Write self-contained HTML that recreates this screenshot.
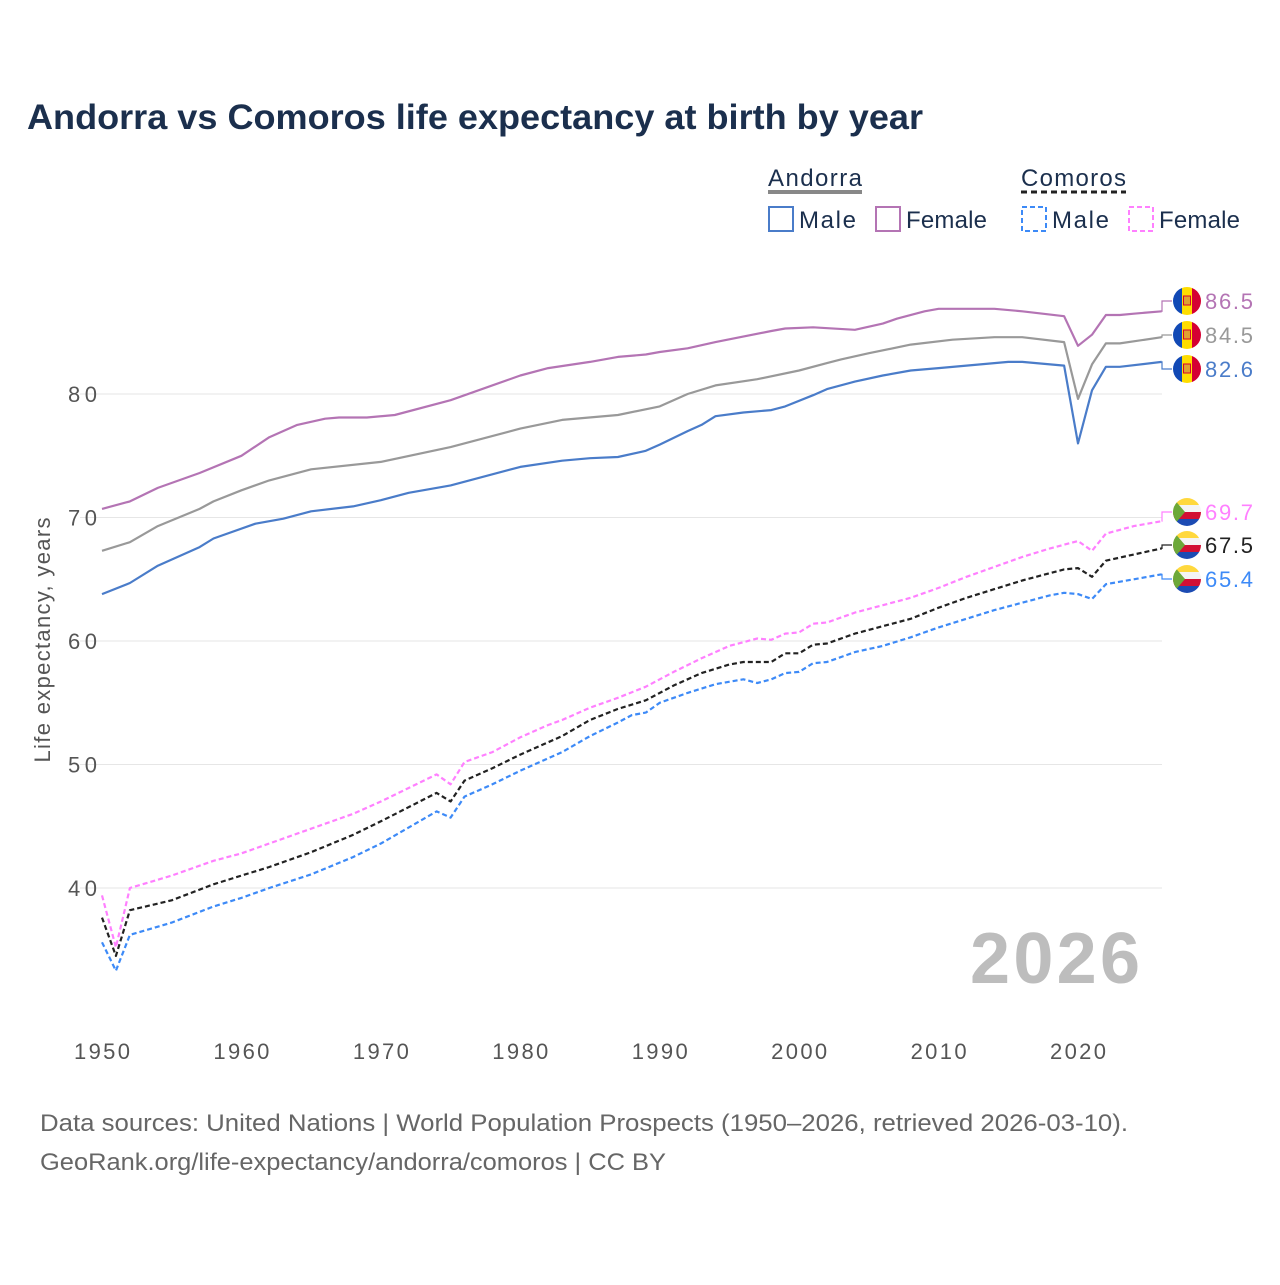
<!DOCTYPE html>
<html><head><meta charset="utf-8"><style>
body{margin:0;background:#fff;font-family:"Liberation Sans",sans-serif}
</style></head><body>
<svg width="1280" height="1280" xmlns="http://www.w3.org/2000/svg" font-family="Liberation Sans, sans-serif">
<text x="27" y="129" font-size="35" font-weight="bold" fill="#1b2f4d" textLength="896" lengthAdjust="spacingAndGlyphs">Andorra vs Comoros life expectancy at birth by year</text>
<g>
<text x="768" y="186" font-size="24" fill="#1b2f4d" textLength="94">Andorra</text>
<line x1="768" y1="192" x2="862" y2="192" stroke="#888" stroke-width="4"/>
<text x="1021" y="186" font-size="24" fill="#1b2f4d" textLength="105">Comoros</text>
<line x1="1021" y1="192" x2="1126" y2="192" stroke="#222" stroke-width="3" stroke-dasharray="6,4"/>
<rect x="769" y="207" width="24" height="24" fill="none" stroke="#4a7cc9" stroke-width="2"/>
<text x="799" y="228" font-size="24" fill="#1b2f4d" textLength="57">Male</text>
<rect x="876" y="207" width="24" height="24" fill="none" stroke="#b474b4" stroke-width="2"/>
<text x="906" y="228" font-size="24" fill="#1b2f4d" textLength="81">Female</text>
<rect x="1022" y="207" width="24" height="24" fill="none" stroke="#3d8af7" stroke-width="2" stroke-dasharray="5,3"/>
<text x="1052" y="228" font-size="24" fill="#1b2f4d" textLength="57">Male</text>
<rect x="1129" y="207" width="24" height="24" fill="none" stroke="#ff80ff" stroke-width="2" stroke-dasharray="5,3"/>
<text x="1159" y="228" font-size="24" fill="#1b2f4d" textLength="81">Female</text>
</g>
<g id="grid"></g>
<text x="1140" y="983" font-size="72" font-weight="bold" fill="#bdbdbd" text-anchor="end" textLength="170">2026</text>
<text transform="translate(50,640) rotate(-90)" font-size="22" fill="#555" text-anchor="middle" textLength="245">Life expectancy, years</text>
<g id="series"></g>
<g id="labels"></g>
<text x="40" y="1131" font-size="24" fill="#666" textLength="1088" lengthAdjust="spacingAndGlyphs">Data sources: United Nations | World Population Prospects (1950–2026, retrieved 2026-03-10).</text>
<text x="40" y="1170" font-size="24" fill="#666" textLength="626" lengthAdjust="spacingAndGlyphs">GeoRank.org/life-expectancy/andorra/comoros | CC BY</text>
</svg>
<script>
const yTicks=[40,50,60,70,80];
const xTicks=[1950,1960,1970,1980,1990,2000,2010,2020];
const andFemale=[[1950,70.7],[1952,71.3],[1954,72.4],[1957,73.6],[1960,75.0],[1962,76.5],[1964,77.5],[1966,78.0],[1967,78.1],[1969,78.1],[1971,78.3],[1975,79.5],[1980,81.5],[1982,82.1],[1985,82.6],[1987,83.0],[1989,83.2],[1990,83.4],[1992,83.7],[1994,84.2],[1998,85.1],[1999,85.3],[2001,85.4],[2004,85.2],[2006,85.7],[2007,86.1],[2009,86.7],[2010,86.9],[2014,86.9],[2016,86.7],[2019,86.3],[2020,83.9],[2021,84.8],[2022,86.4],[2023,86.4],[2024,86.5],[2026,86.7]];
const andTotal=[[1950,67.3],[1952,68.0],[1954,69.3],[1957,70.7],[1958,71.3],[1960,72.2],[1962,73.0],[1965,73.9],[1970,74.5],[1975,75.7],[1980,77.2],[1983,77.9],[1987,78.3],[1990,79.0],[1992,80.0],[1994,80.7],[1997,81.2],[2000,81.9],[2002,82.5],[2003,82.8],[2005,83.3],[2008,84.0],[2011,84.4],[2014,84.6],[2016,84.6],[2019,84.2],[2020,79.6],[2021,82.4],[2022,84.1],[2023,84.1],[2026,84.6]];
const andMale=[[1950,63.8],[1952,64.7],[1954,66.1],[1957,67.6],[1958,68.3],[1961,69.5],[1963,69.9],[1965,70.5],[1968,70.9],[1970,71.4],[1972,72.0],[1975,72.6],[1980,74.1],[1983,74.6],[1985,74.8],[1987,74.9],[1989,75.4],[1990,75.9],[1992,77.0],[1993,77.5],[1994,78.2],[1996,78.5],[1998,78.7],[1999,79.0],[2001,79.9],[2002,80.4],[2004,81.0],[2006,81.5],[2008,81.9],[2010,82.1],[2013,82.4],[2015,82.6],[2016,82.6],[2019,82.3],[2020,76.0],[2021,80.3],[2022,82.2],[2023,82.2],[2026,82.6]];
const comFemale=[[1950,39.4],[1951,35.2],[1952,40.0],[1955,41.0],[1958,42.2],[1960,42.8],[1962,43.6],[1965,44.8],[1968,46.0],[1970,47.0],[1974,49.2],[1975,48.4],[1976,50.2],[1978,51.0],[1980,52.2],[1982,53.2],[1983,53.6],[1985,54.6],[1987,55.4],[1989,56.3],[1991,57.5],[1993,58.6],[1995,59.6],[1997,60.2],[1998,60.1],[1999,60.6],[2000,60.7],[2001,61.4],[2002,61.5],[2004,62.3],[2006,62.9],[2008,63.5],[2010,64.3],[2012,65.2],[2014,66.0],[2016,66.8],[2018,67.5],[2019,67.8],[2020,68.1],[2021,67.3],[2022,68.7],[2024,69.3],[2026,69.7]];
const comTotal=[[1950,37.6],[1951,34.5],[1952,38.2],[1955,39.0],[1958,40.3],[1960,41.0],[1962,41.7],[1965,42.9],[1968,44.3],[1970,45.4],[1974,47.7],[1975,47.0],[1976,48.7],[1978,49.7],[1980,50.8],[1983,52.3],[1985,53.6],[1987,54.5],[1989,55.2],[1991,56.4],[1993,57.4],[1995,58.1],[1996,58.3],[1998,58.3],[1999,59.0],[2000,59.0],[2001,59.7],[2002,59.8],[2004,60.6],[2006,61.2],[2008,61.8],[2010,62.7],[2012,63.5],[2014,64.2],[2016,64.9],[2018,65.5],[2019,65.8],[2020,65.9],[2021,65.2],[2022,66.5],[2024,67.0],[2026,67.5]];
const comMale=[[1950,35.6],[1951,33.3],[1952,36.2],[1955,37.2],[1958,38.5],[1960,39.2],[1962,40.0],[1965,41.1],[1968,42.5],[1970,43.6],[1974,46.2],[1975,45.7],[1976,47.4],[1978,48.4],[1980,49.5],[1983,51.0],[1985,52.3],[1987,53.4],[1988,54.0],[1989,54.2],[1990,55.0],[1992,55.8],[1994,56.5],[1996,56.9],[1997,56.6],[1998,56.9],[1999,57.4],[2000,57.5],[2001,58.2],[2002,58.3],[2004,59.1],[2006,59.6],[2008,60.3],[2010,61.1],[2012,61.8],[2014,62.5],[2016,63.1],[2018,63.7],[2019,63.9],[2020,63.8],[2021,63.4],[2022,64.6],[2024,65.0],[2026,65.4]];
const endLabels=["86.5","84.5","82.6","69.7","67.5","65.4"];

const NS="http://www.w3.org/2000/svg";
const X=y=>102+(y-1950)*13.943;
const Y=v=>394-(v-80)*12.35;
function mk(t,a,p){const e=document.createElementNS(NS,t);for(const k in a)e.setAttribute(k,a[k]);p.appendChild(e);return e;}
const grid=document.getElementById('grid');
yTicks.forEach(v=>{
  const l=mk('line',{x1:80,x2:1162,y1:Y(v),y2:Y(v),stroke:'#e6e6e6','stroke-width':1},grid);
  
  
  const t=mk('text',{x:97,y:Y(v)+8,'font-size':22,fill:'#555','text-anchor':'end',textLength:29},grid);
  t.textContent=v;
  
  
});
xTicks.forEach(v=>{
  const t=mk('text',{x:X(v),y:1059,'font-size':22,fill:'#555','text-anchor':'middle',textLength:56},grid);
  t.textContent=v;
  
  
});
const ser=document.getElementById('series');
const defs=[
 [andFemale,'#b474b4',null,'andorra-female-line'],
 [andTotal,'#999',null,'andorra-total-line'],
 [andMale,'#4a7cc9',null,'andorra-male-line'],
 [comFemale,'#ff80ff','5,3','comoros-female-line'],
 [comTotal,'#222','5,3','comoros-total-line'],
 [comMale,'#3d8af7','5,3','comoros-male-line']];
const labYs=[301,335,369,512,545,579];
const lab=document.getElementById('labels');
defs.forEach((d,i)=>{
  const pts=d[0].map(p=>X(p[0]).toFixed(1)+','+Y(p[1]).toFixed(1)).join(' ');
  const a={points:pts,fill:'none',stroke:d[1],'stroke-width':2.2,'stroke-linejoin':'round'};
  if(d[2])a['stroke-dasharray']=d[2];
  const pl=mk('polyline',a,ser);
  
  
  const last=d[0][d[0].length-1];
  const ey=Y(last[1]),ly=labYs[i];
  mk('polyline',{points:`${X(last[0])},${ey} 1162,${ey} 1162,${ly} 1172,${ly}`,fill:'none',stroke:d[1],'stroke-width':1.2},lab);
  const cx=1187,cy=ly,r=14;
  const g=mk('g',{},lab);
  
  
  const cp='cp'+i;
  const c=mk('clipPath',{id:cp},g);mk('circle',{cx,cy,r},c);
  const gg=mk('g',{'clip-path':`url(#${cp})`},g);
  if(i<3){
    mk('rect',{x:cx-r,y:cy-r,width:9,height:28,fill:'#1149b5'},gg);
    mk('rect',{x:cx-5,y:cy-r,width:10,height:28,fill:'#fedd00'},gg);
    mk('rect',{x:cx+5,y:cy-r,width:10,height:28,fill:'#d50032'},gg);
    mk('rect',{x:cx-3.5,y:cy-5,width:7,height:9,fill:'#e0a030',stroke:'#d50032','stroke-width':1},gg);
  } else {
    ['#ffd83d','#f4f4f4','#d21034','#1c4bb3'].forEach((col,k)=>mk('rect',{x:cx-r,y:cy-r+k*7,width:28,height:7,fill:col},gg));
    mk('polygon',{points:`${cx-r},${cy-r} ${cx-2},${cy} ${cx-r},${cy+r}`,fill:'#6ca839'},gg);
  }
  const t=mk('text',{x:1205,y:ly+8,'font-size':22,fill:d[1],textLength:48},lab);
  t.textContent=endLabels[i];
  
  
});
</script>
</body></html>
